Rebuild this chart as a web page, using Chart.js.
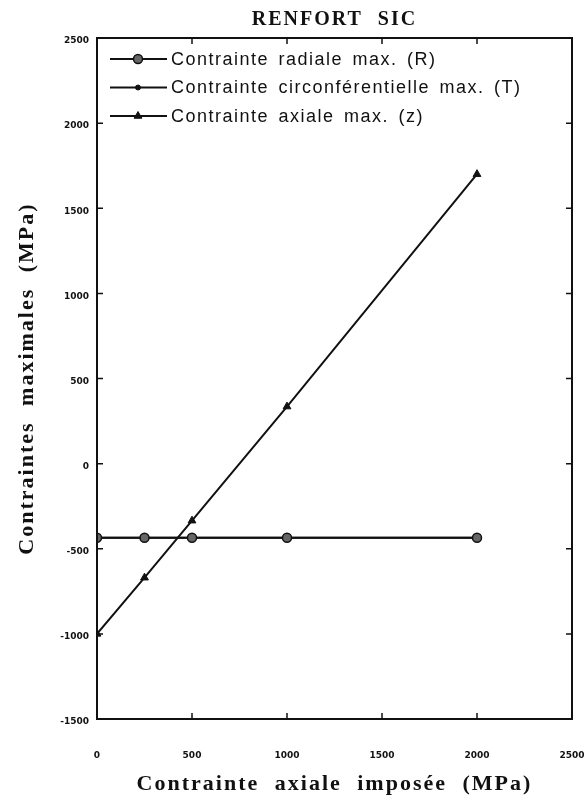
<!DOCTYPE html>
<html>
<head>
<meta charset="utf-8">
<script src="https://cdn.jsdelivr.net/npm/chart.js@4.4.1/dist/chart.umd.min.js"></script>
<style>
  html, body { margin: 0; padding: 0; background: #fff; }
  #chart { display: block; }
</style>
</head>
<body>
<canvas id="chart" width="588" height="803"></canvas>
<script>
// values (MPa)
const appliedStress = [0, 250, 500, 1000, 2000];
const radialMax = [-435, -435, -435, -435, -435];
const hoopMax = [-435, -435, -435, -435, -435];
const axialMax = [-1000, -670, -335, 335, 1700];

const seriesLabels = [
    'Contrainte radiale max. (R)',
    'Contrainte circonférentielle max. (T)',
    'Contrainte axiale max. (z)'
];
const xTicks = [0, 500, 1000, 1500, 2000, 2500];
const yTicks = [-1500, -1000, -500, 0, 500, 1000, 1500, 2000, 2500];

function toPoints(ys) {
    return appliedStress.map((x, i) => ({ x: x, y: ys[i] }));
}

const ink = '#111';

// spaced lettering for axis titles, plain for everything drawn after
const spacing = {
    id: 'spacing',
    beforeDraw(chart) {
        chart.ctx.letterSpacing = '2px';
        chart.ctx.wordSpacing = '8px';
    },
    beforeDatasetsDraw(chart) {
        chart.ctx.letterSpacing = '0px';
        chart.ctx.wordSpacing = '0px';
    }
};

// closed frame with short inward ticks on every side
const frame = {
    id: 'frame',
    afterDatasetsDraw(chart) {
        const { ctx, chartArea: a } = chart;
        const xs = chart.scales.x, ys = chart.scales.y;
        ctx.save();
        ctx.strokeStyle = ink;
        ctx.lineWidth = 2;
        ctx.strokeRect(a.left, a.top, a.right - a.left, a.bottom - a.top);
        ctx.lineWidth = 1.5;
        ctx.beginPath();
        ys.ticks.forEach(t => {
            const py = ys.getPixelForValue(t.value);
            ctx.moveTo(a.left, py); ctx.lineTo(a.left + 6, py);
            ctx.moveTo(a.right, py); ctx.lineTo(a.right - 6, py);
        });
        xs.ticks.forEach(t => {
            const px = xs.getPixelForValue(t.value);
            ctx.moveTo(px, a.top); ctx.lineTo(px, a.top + 6);
            ctx.moveTo(px, a.bottom); ctx.lineTo(px, a.bottom - 6);
        });
        ctx.stroke();
        ctx.restore();
    }
};

// legend sitting inside the plot, line - marker - line
const insideLegend = {
    id: 'insideLegend',
    afterDatasetsDraw(chart) {
        const { ctx, chartArea: a } = chart;
        ctx.save();
        ctx.font = '18px "Liberation Sans", Arial, sans-serif';
        ctx.letterSpacing = '1.5px';
        ctx.wordSpacing = '3px';
        ctx.textBaseline = 'middle';
        chart.data.datasets.forEach((ds, i) => {
            const y = a.top + 21 + i * 28.5;
            const x0 = a.left + 13;
            ctx.strokeStyle = ink;
            ctx.lineWidth = 2;
            ctx.beginPath();
            ctx.moveTo(x0, y);
            ctx.lineTo(x0 + 57, y);
            ctx.stroke();
            ctx.fillStyle = ds.pointBackgroundColor;
            ctx.strokeStyle = ds.pointBorderColor;
            ctx.lineWidth = ds.pointBorderWidth;
            Chart.helpers.drawPoint(ctx, {
                pointStyle: ds.pointStyle,
                radius: ds.pointRadius,
                rotation: 0,
                borderWidth: ds.pointBorderWidth
            }, x0 + 28, y);
            ctx.fillStyle = ink;
            ctx.fillText(ds.label, x0 + 61, y + 1);
        });
        ctx.restore();
    }
};

const serifTitle = { family: '"Liberation Serif", "Times New Roman", serif', weight: 'bold', size: 22 };
const tickFont = { family: '"DejaVu Sans", sans-serif', weight: 'bold', size: 9 };
const plainNumber = (v) => String(v);

new Chart(document.getElementById('chart'), {
    type: 'line',
    data: {
        datasets: [{
            label: seriesLabels[0],
            data: toPoints(radialMax),
            borderColor: ink,
            borderWidth: 2,
            pointStyle: 'circle',
            pointRadius: 4.5,
            pointBackgroundColor: '#666',
            pointBorderColor: ink,
            pointBorderWidth: 1.5
        }, {
            label: seriesLabels[1],
            data: toPoints(hoopMax),
            borderColor: ink,
            borderWidth: 2,
            pointStyle: 'circle',
            pointRadius: 2.5,
            pointBackgroundColor: ink,
            pointBorderColor: ink,
            pointBorderWidth: 1
        }, {
            label: seriesLabels[2],
            data: toPoints(axialMax),
            borderColor: ink,
            borderWidth: 2,
            pointStyle: 'triangle',
            pointRadius: 4.5,
            pointBackgroundColor: ink,
            pointBorderColor: ink,
            pointBorderWidth: 1
        }]
    },
    options: {
        responsive: false,
        animation: false,
        devicePixelRatio: 1,
        layout: { padding: { left: 9, right: 16, top: 4, bottom: 4 } },
        plugins: {
            legend: { display: false },
            tooltip: { enabled: false }
        },
        scales: {
            x: {
                type: 'linear',
                position: 'bottom',
                min: 0,
                max: 2500,
                afterBuildTicks: (s) => { s.ticks = xTicks.map(v => ({ value: v })); },
                afterFit: (s) => { s.height = 80; s.paddingLeft = 0; s.paddingRight = 14; },
                grid: { display: false, drawTicks: false },
                border: { display: false },
                ticks: { z: 1, padding: 31, color: ink, font: tickFont, maxRotation: 0, callback: plainNumber },
                title: {
                    display: true,
                    text: 'Contrainte axiale imposée (MPa)',
                    color: ink,
                    font: serifTitle,
                    padding: { top: 10.8, bottom: 1 }
                }
            },
            x2: {
                type: 'linear',
                position: 'top',
                grid: { display: false, drawTicks: false },
                border: { display: false },
                ticks: { display: false },
                title: {
                    display: true,
                    text: 'RENFORT SIC',
                    color: ink,
                    font: { family: '"Liberation Serif", "Times New Roman", serif', weight: 'bold', size: 20 },
                    padding: { top: 4, bottom: 6 }
                }
            },
            y: {
                type: 'linear',
                min: -1500,
                max: 2500,
                afterBuildTicks: (s) => { s.ticks = yTicks.map(v => ({ value: v })); },
                afterFit: (s) => { s.width = 88; },
                grid: { display: false, drawTicks: false },
                border: { display: false },
                ticks: { z: 1, padding: 8, labelOffset: 3, color: ink, font: tickFont, callback: plainNumber },
                title: {
                    display: true,
                    text: 'Contraintes maximales (MPa)',
                    color: ink,
                    font: serifTitle,
                    padding: { top: 5, bottom: 20 }
                }
            }
        }
    },
    plugins: [spacing, frame, insideLegend]
});
</script>
</body>
</html>
